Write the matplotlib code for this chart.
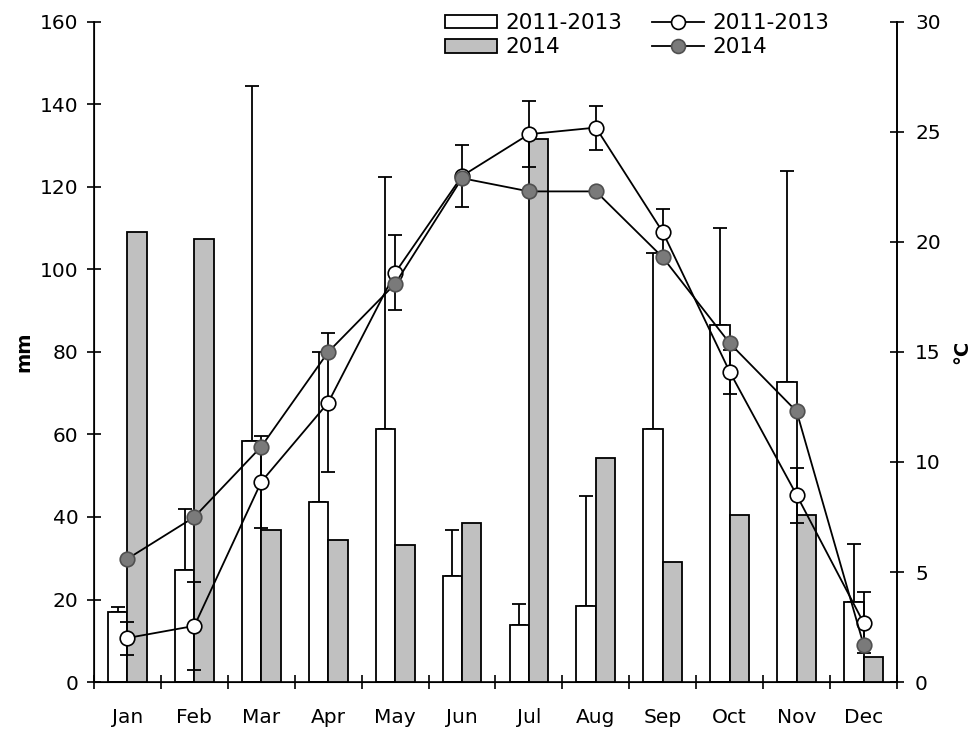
import matplotlib
matplotlib.use("Agg")
import matplotlib.pyplot as plt
from matplotlib.lines import Line2D
import numpy as np

plt.rcParams['font.family'] = ['DejaVu Sans']

months = ['Jan', 'Feb', 'Mar', 'Apr', 'May', 'Jun',
          'Jul', 'Aug', 'Sep', 'Oct', 'Nov', 'Dec']

# precipitation (mm)
rain_avg = [17.0, 27.2, 58.5, 43.7, 61.3, 25.7, 13.8, 18.4, 61.3, 86.5, 72.7, 19.4]
rain_avg_err = [1.2, 14.7, 86.0, 36.3, 61.2, 11.1, 5.1, 26.7, 42.7, 23.5, 51.2, 14.1]
rain_2014 = [109.1, 107.4, 36.8, 34.4, 33.2, 38.6, 131.6, 54.3, 29.1, 40.5, 40.5, 6.0]

# temperature (degC)
temp_avg = [2.0, 2.55, 9.1, 12.7, 18.6, 23.0, 24.9, 25.2, 20.45, 14.1, 8.5, 2.7]
temp_avg_err = [0.75, 2.0, 2.1, 3.15, 1.7, 1.4, 1.5, 1.0, 1.05, 1.0, 1.25, 1.4]
temp_2014 = [5.6, 7.5, 10.7, 15.0, 18.1, 22.9, 22.3, 22.3, 19.3, 15.4, 12.3, 1.7]

label_avg = '2011-2013'
label_2014 = '2014'

x = np.arange(len(months))
w = 0.29
lw = 1.3

fig = plt.figure(figsize=(9.79, 7.31), dpi=100)
ax = fig.add_axes([94 / 979, 1 - 682 / 731, (897 - 94) / 979, 660 / 731])

ax.bar(x - w / 2, rain_avg, w, color='white', edgecolor='black', linewidth=lw,
       label=label_avg, zorder=2)
ax.errorbar(x - w / 2, rain_avg, yerr=[np.zeros(12), rain_avg_err], fmt='none',
            ecolor='black', elinewidth=lw, capsize=5, capthick=lw, zorder=1)
ax.bar(x + w / 2, rain_2014, w, color='#c0c0c0', edgecolor='black', linewidth=lw,
       label=label_2014, zorder=3)

ax.set_xlim(-0.5, 11.5)
ax.set_ylim(0, 160)
ax.set_yticks(range(0, 161, 20))
ax.set_xticks(x)
ax.set_xticklabels(months)
ax.set_xticks(np.arange(-0.5, 12, 1), minor=True)
ax.tick_params(axis='x', which='major', length=0, pad=19, labelsize=14.5)
ax.tick_params(axis='x', which='minor', direction='inout', length=10, width=1.2)
ax.tick_params(axis='y', direction='inout', length=10, width=1.2, pad=6, labelsize=14.5)
ax.set_ylabel('mm', fontsize=14, fontweight='bold', labelpad=5)
ax.spines['top'].set_visible(False)
for s in ['left', 'right', 'bottom']:
    ax.spines[s].set_linewidth(1.2)

ax2 = ax.twinx()
ax2.errorbar(x, temp_avg, yerr=temp_avg_err, fmt='none', ecolor='black',
             elinewidth=lw, capsize=5, capthick=lw, zorder=2)
ax2.plot(x, temp_avg, '-o', color='black', lw=lw, markersize=10.5,
         markerfacecolor='white', markeredgecolor='black', markeredgewidth=1.2, zorder=3)
ax2.plot(x, temp_2014, '-o', color='black', lw=lw, markersize=10.5,
         markerfacecolor='#7a7a7a', markeredgecolor='#505050', markeredgewidth=1.2, zorder=4)
ax2.set_ylim(0, 30)
ax2.set_yticks(range(0, 31, 5))
ax2.tick_params(axis='y', direction='inout', length=10, width=1.2, pad=8, labelsize=14.5)
ax2.set_ylabel('°C', fontsize=14, fontweight='bold', labelpad=8)
ax2.spines['top'].set_visible(False)
ax2.spines['right'].set_linewidth(1.2)

bar_handles, bar_labels = ax.get_legend_handles_labels()
line_handles = [
    Line2D([], [], color='black', lw=lw, marker='o', markersize=10,
           markerfacecolor='white', markeredgecolor='black', markeredgewidth=1.2),
    Line2D([], [], color='black', lw=lw, marker='o', markersize=10,
           markerfacecolor='#7a7a7a', markeredgecolor='#505050', markeredgewidth=1.2),
]
fig.legend(bar_handles + line_handles, bar_labels + [label_avg, label_2014],
           ncol=2, loc='upper left', bbox_to_anchor=(445 / 979, 1 - 13 / 731),
           frameon=False, fontsize=15.5, borderpad=0, borderaxespad=0,
           handlelength=2.4, handleheight=0.6, handletextpad=0.4,
           columnspacing=1.4, labelspacing=0.2)

fig.savefig('out.png', dpi=100)
